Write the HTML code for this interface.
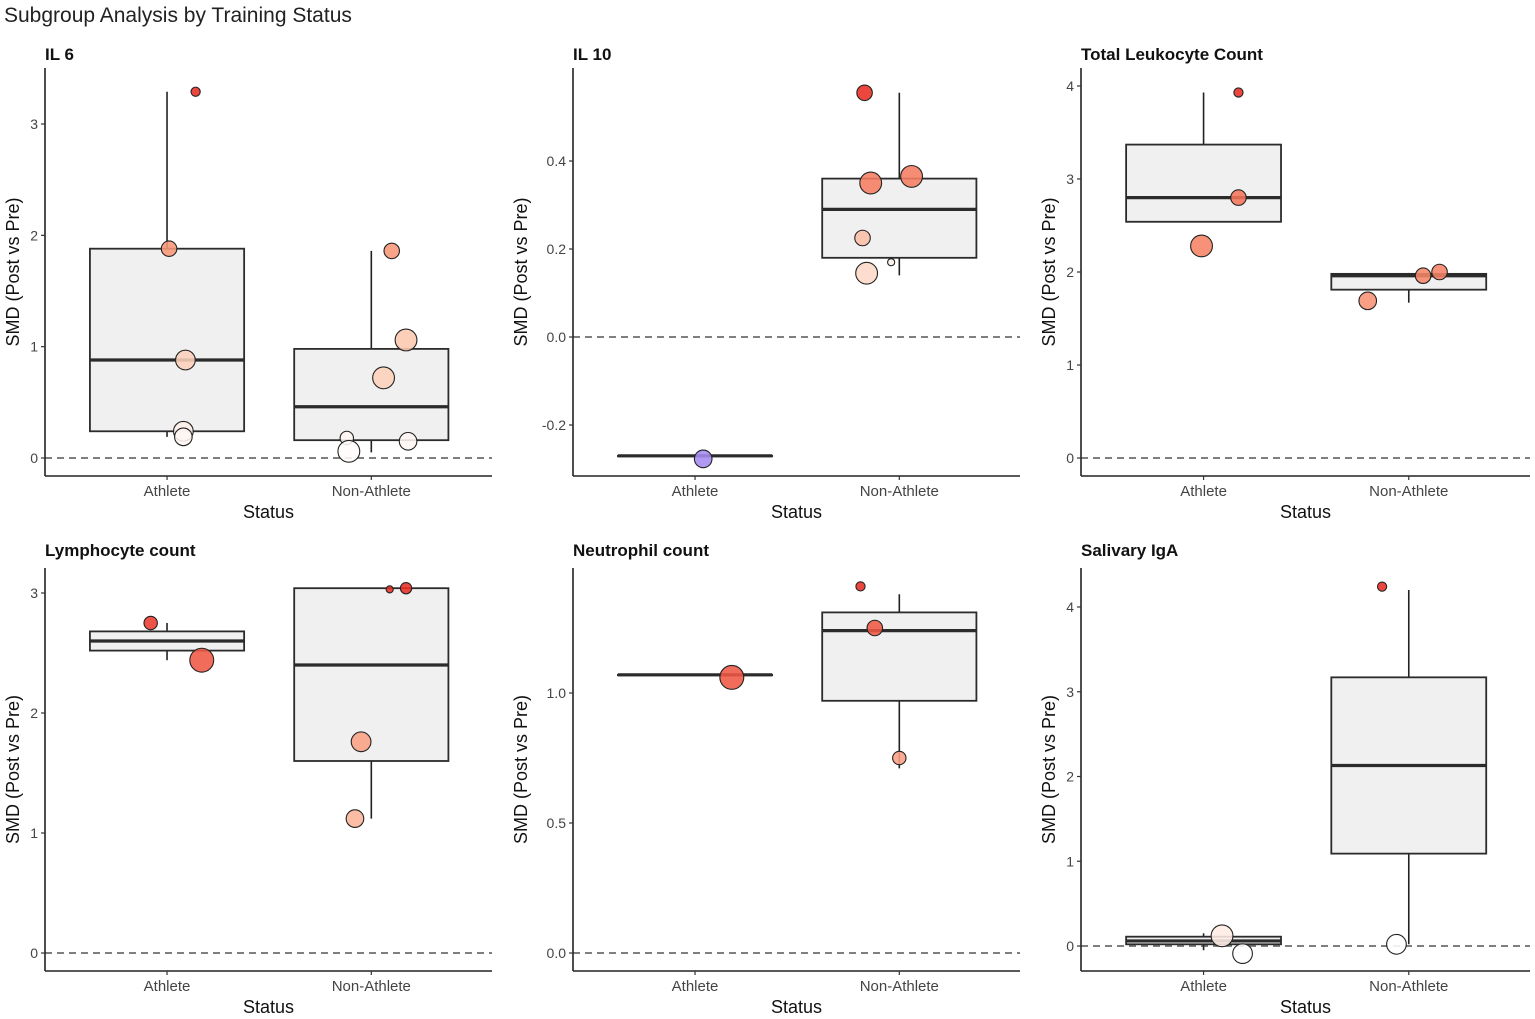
<!DOCTYPE html>
<html><head><meta charset="utf-8">
<style>
html,body{margin:0;padding:0;background:#fff;}
svg{display:block;font-family:"Liberation Sans",Arial,sans-serif;}
</style></head>
<body>
<svg id="chart" width="1535" height="1019" viewBox="0 0 1535 1019">
<text x="4" y="22" font-size="21" fill="#222">Subgroup Analysis by Training Status</text>
</svg>
<script>
// ---- data ----
const panelTitles = ["IL 6","IL 10","Total Leukocyte Count","Lymphocyte count","Neutrophil count","Salivary IgA"];
const categories = ["Athlete","Non-Athlete"];
const tickLabels = [
  ["0","1","2","3"],
  ["-0.2","0.0","0.2","0.4"],
  ["0","1","2","3","4"],
  ["0","1","2","3"],
  ["0.0","0.5","1.0"],
  ["0","1","2","3","4"]
];
// box stats per panel per category: [whiskerLow, q1, median, q3, whiskerHigh]
const boxStats = [
  [[0.19,0.24,0.88,1.88,3.29],[0.05,0.16,0.46,0.98,1.86]],
  [[-0.27,-0.27,-0.27,-0.27,-0.27],[0.14,0.18,0.29,0.36,0.555]],
  [[2.54,2.54,2.80,3.37,3.93],[1.67,1.81,1.96,1.98,1.99]],
  [[2.44,2.52,2.60,2.68,2.75],[1.12,1.60,2.40,3.04,3.04]],
  [[1.07,1.07,1.07,1.07,1.07],[0.71,0.97,1.24,1.31,1.38]],
  [[-0.05,0.02,0.06,0.11,0.15],[0.02,1.09,2.13,3.17,4.20]]
];
const ptCat = [
  [0,0,0,0,0,1,1,1,1,1,1],
  [0,1,1,1,1,1,1],
  [0,0,0,1,1,1],
  [0,0,1,1,1,1],
  [0,1,1,1],
  [0,0,1,1]
];
const ptVal = [
  [3.29,1.88,0.88,0.24,0.19,1.86,1.06,0.72,0.18,0.15,0.06],
  [-0.277,0.555,0.35,0.365,0.225,0.145,0.17],
  [3.93,2.80,2.28,2.00,1.96,1.69],
  [2.75,2.44,3.04,3.03,1.76,1.12],
  [1.06,1.41,1.25,0.75],
  [0.12,-0.09,4.24,0.02]
];
const ptJit = [
  [0.14,0.01,0.09,0.08,0.08,0.10,0.17,0.06,-0.12,0.18,-0.11],
  [0.04,-0.17,-0.14,0.06,-0.18,-0.16,-0.04],
  [0.17,0.17,-0.01,0.15,0.07,-0.20],
  [-0.08,0.17,0.17,0.09,-0.05,-0.08],
  [0.18,-0.19,-0.12,0.00],
  [0.09,0.19,-0.13,-0.06]
];
const ptSize = [
  [2,5,7,7,6,5,8,8,4,6,8],
  [6,5,8,8,5,8,1],
  [2,5,8,5,5,6],
  [4,9,3,1,7,6],
  [9,2,5,4],
  [8,7,2,7]
];
const ptShade = [
  [1.0,0.6,0.3,0.1,0.06,0.6,0.35,0.3,0.06,0.06,0.02],
  [-1,1.0,0.72,0.72,0.4,0.25,0.1],
  [1.0,0.75,0.7,0.7,0.68,0.62],
  [0.95,0.85,1.0,1.0,0.55,0.45],
  [0.85,1.0,0.85,0.55],
  [0.12,0.0,1.0,0.0]
];

// ---- layout (pixels) ----
const layout = [
  {x0:45,x1:492,top:68,bottom:476,tv0:0,tp0:458,tv1:3,tp1:124,ticks:[0,1,2,3],title:[45,60],status:512,yt:32},
  {x0:573,x1:1020,top:68,bottom:476,tv0:0,tp0:337,tv1:0.4,tp1:161,ticks:[-0.2,0,0.2,0.4],title:[573,60],status:512,yt:52},
  {x0:1081,x1:1530,top:68,bottom:476,tv0:0,tp0:458,tv1:4,tp1:86,ticks:[0,1,2,3,4],title:[1081,60],status:512,yt:32},
  {x0:45,x1:492,top:568,bottom:971,tv0:0,tp0:953,tv1:3,tp1:593,ticks:[0,1,2,3],title:[45,556],status:1007,yt:32},
  {x0:573,x1:1020,top:568,bottom:971,tv0:0,tp0:953,tv1:1,tp1:693,ticks:[0,0.5,1],title:[573,556],status:1007,yt:52},
  {x0:1081,x1:1530,top:568,bottom:971,tv0:0,tp0:946,tv1:4,tp1:607,ticks:[0,1,2,3,4],title:[1081,556],status:1007,yt:32}
];

const NS = "http://www.w3.org/2000/svg";
const svg = document.getElementById("chart");
function mk(tag, attrs, parent){
  const e = document.createElementNS(NS, tag);
  for (const k in attrs) e.setAttribute(k, attrs[k]);
  (parent||svg).appendChild(e);
  return e;
}
const stops = [[0,[255,255,255]],[0.35,[252,200,175]],[0.7,[246,130,100]],[1,[232,45,35]]];
function shadeColor(s){
  if (s < 0) return "#a58bf0";
  for (let i=1;i<stops.length;i++){
    if (s <= stops[i][0]){
      const a=stops[i-1], b=stops[i], t=(s-a[0])/(b[0]-a[0]);
      const c=a[1].map((v,k)=>Math.round(v+(b[1][k]-v)*t));
      return "rgb("+c.join(",")+")";
    }
  }
  return "rgb(232,45,35)";
}

layout.forEach((L, p) => {
  const g = mk("g", {});
  
  
  const y = v => L.tp0 + (v - L.tv0) * (L.tp1 - L.tp0) / (L.tv1 - L.tv0);
  const span = L.x1 - L.x0;
  const xc = c => L.x0 + span * (0.273 + 0.457 * c);
  const boxW = span * 0.345;

  const t = mk("text", {x:L.title[0], y:L.title[1], "font-size":17, "font-weight":"bold", fill:"#111"}, g);
  t.textContent = panelTitles[p];
  
  

  const zl = mk("line", {x1:L.x0, x2:L.x1, y1:y(0), y2:y(0), stroke:"#555", "stroke-width":1.4, "stroke-dasharray":"7,5"}, g);
  
  

  categories.forEach((c, ci) => {
    const s = boxStats[p][ci];
    const cx = xc(ci);
    const bg = mk("g", {}, g);
    
    
    mk("line", {x1:cx, x2:cx, y1:y(s[0]), y2:y(s[4]), stroke:"#222", "stroke-width":1.6}, bg);
    mk("rect", {x:cx-boxW/2, y:y(s[3]), width:boxW, height:Math.max(0.5, y(s[1])-y(s[3])), fill:"#f0f0f0", stroke:"#2b2b2b", "stroke-width":1.8}, bg);
    mk("line", {x1:cx-boxW/2, x2:cx+boxW/2, y1:y(s[2]), y2:y(s[2]), stroke:"#2b2b2b", "stroke-width":3.2}, bg);
  });

  ptVal[p].forEach((v, i) => {
    const cx = xc(ptCat[p][i]) + ptJit[p][i] * span * 0.457;
    const r = 2.5 + ptSize[p][i] * 1.05;
    const c = mk("circle", {cx:cx, cy:y(v), r:r, fill:shadeColor(ptShade[p][i]), "fill-opacity":0.88, stroke:"#222", "stroke-width":1.1}, g);
    
    
  });

  const ya = mk("line", {x1:L.x0, x2:L.x0, y1:L.top, y2:L.bottom, stroke:"#222", "stroke-width":1.6}, g);
  
  
  const xa = mk("line", {x1:L.x0, x2:L.x1, y1:L.bottom, y2:L.bottom, stroke:"#222", "stroke-width":1.6}, g);
  
  

  L.ticks.forEach((tv, ti) => {
    mk("line", {x1:L.x0-4, x2:L.x0, y1:y(tv), y2:y(tv), stroke:"#333", "stroke-width":1.2}, g);
    const tl = mk("text", {x:L.x0-7, y:y(tv)+5, "font-size":14, fill:"#444", "text-anchor":"end"}, g);
    tl.textContent = tickLabels[p][ti];
    
    
  });
  categories.forEach((c, ci) => {
    mk("line", {x1:xc(ci), x2:xc(ci), y1:L.bottom, y2:L.bottom+4, stroke:"#333", "stroke-width":1.2}, g);
    const cl = mk("text", {x:xc(ci), y:L.bottom+20, "font-size":15, fill:"#444", "text-anchor":"middle"}, g);
    cl.textContent = c;
    
    
  });
  const st = mk("text", {x:(L.x0+L.x1)/2, y:L.status+6, "font-size":18, fill:"#111", "text-anchor":"middle"}, g);
  st.textContent = "Status";
  
  
  const yt = mk("text", {x:0, y:0, "font-size":18, fill:"#111", "text-anchor":"middle", transform:"translate("+(L.x0-L.yt+6)+","+((L.top+L.bottom)/2)+") rotate(-90)"}, g);
  yt.textContent = "SMD (Post vs Pre)";
  
  
});
</script>
</body></html>
